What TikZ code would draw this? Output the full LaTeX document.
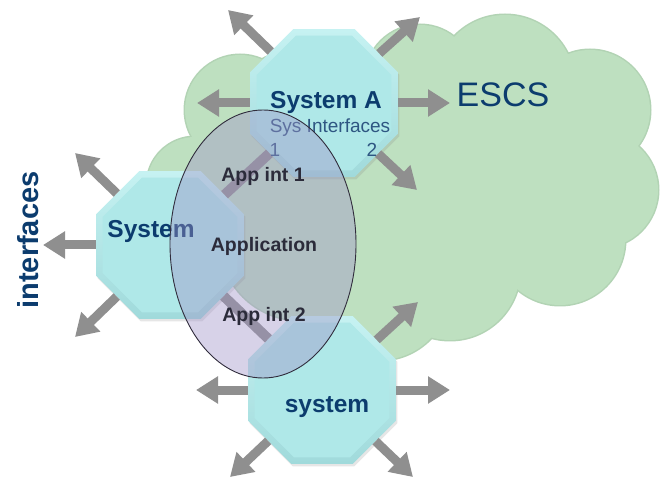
\documentclass[tikz,border=0pt]{standalone}
\usepackage{fontspec}
\setmainfont{Liberation Sans}
\usetikzlibrary{arrows.meta,shapes.geometric,shadows}
\definecolor{cloudgreen}{HTML}{BEE0C0}
\definecolor{cloudedge}{HTML}{B2D3B4}
\definecolor{octface}{HTML}{AFE8E8}
\definecolor{octlight}{HTML}{C6F2F2}
\definecolor{octdark}{HTML}{A0DADB}
\definecolor{flow}{HTML}{8F8F8F}
\definecolor{appfill}{RGB}{160,148,200}
\definecolor{titleblue}{HTML}{0C3C6E}
\definecolor{ifblue}{HTML}{2E5682}
\definecolor{apptext}{HTML}{2B2B3A}

\begin{document}
\begin{tikzpicture}[x=1pt,y=1pt,
    octagon/.style={regular polygon,regular polygon sides=8,minimum size=160pt,inner sep=0pt,
      top color=octlight,bottom color=octdark,
      drop shadow={opacity=.2,shadow xshift=1.5pt,shadow yshift=-2.5pt}},
    octinner/.style={regular polygon,regular polygon sides=8,minimum size=146pt,inner sep=0pt,fill=octface},
    flowarrow/.style={draw=flow,line width=9pt,-{Triangle[length=22pt,width=26pt]}},
    appflow/.style={draw=flow,line width=10pt},
    appset/.style={ellipse,minimum width=186pt,minimum height=268pt,inner sep=0pt,
      fill=appfill,fill opacity=.42,draw=black!70!appfill,line width=.9pt},
    bigtitle/.style={text=titleblue,font=\bfseries\fontsize{24.5}{28}\selectfont,anchor=base},
    iflabel/.style={text=ifblue,font=\fontsize{19}{22}\selectfont,anchor=base},
    applabel/.style={text=apptext,font=\bfseries\fontsize{19.5}{22}\selectfont,anchor=base}]
  \useasboundingbox (0,0) rectangle (662,480);

  % ESCS cloud
  \foreach \cx/\cy/\r in {195/295/48,240/370/55,420/400/55,505/395/70,590/370/60,600/290/58,
      560/240/65,450/210/70,380/190/70,350/280/130,300/240/80,300/350/80,500/290/100}
    \fill[cloudedge] (\cx,\cy) circle (\r+1.5);
  \foreach \cx/\cy/\r in {195/295/48,240/370/55,420/400/55,505/395/70,590/370/60,600/290/58,
      560/240/65,450/210/70,380/190/70,350/280/130,300/240/80,300/350/80,500/290/100}
    \fill[cloudgreen] (\cx,\cy) circle (\r);

  % systems
  \path
    (324,377) node[octagon] (sysA) {}
    (170,235) node[octagon] (sysL) {}
    (322,90) node[octagon] (sysB) {}
    ;
  \foreach \n in {sysA,sysL,sysB}
    \node[octinner] at (\n) {};

  % interface arrows
  \path
    (228,470) coordinate (aNW)
    (420,463) coordinate (aNE)
    (197,377) coordinate (aW)
    (450,377) coordinate (aE)
    (417,290) coordinate (aSE)
    (75,327) coordinate (lNW)
    (43,235) coordinate (lW)
    (75,143) coordinate (lSW)
    (418,178) coordinate (bNE)
    (450,90) coordinate (bE)
    (196,90) coordinate (bW)
    (230,3) coordinate (bSW)
    (413,3) coordinate (bSE)
    ;
  \foreach \t in {aNW,aNE,aW,aE,aSE}
    \draw[flowarrow] (sysA) -- (\t);
  \foreach \t in {lNW,lW,lSW}
    \draw[flowarrow] (sysL) -- (\t);
  \foreach \t in {bNE,bE,bW,bSW,bSE}
    \draw[flowarrow] (sysB) -- (\t);
  \draw[appflow] (sysA) -- (sysL);
  \draw[appflow] (sysL) -- (sysB);

  \path
    (326,371) node[bigtitle] (titleA) {System A}
    (330,347) node[iflabel] (sysif) {Sys Interfaces}
    (275,323) node[iflabel] (ifone) {1}
    (372,323) node[iflabel] (iftwo) {2}
    (151,242) node[bigtitle] (titleL) {System}
    (327,67) node[bigtitle] (titleB) {system}
    (503,373) node[text=titleblue,font=\fontsize{34}{38}\selectfont,anchor=base] (escs) {ESCS}
    (28,240) node[rotate=90,text=titleblue,font=\bfseries\fontsize{29}{32}\selectfont] (ifaces) {interfaces}
    ;

  % application
  \node[appset] (app) at (263,236) {};
  \path
    (263,298) node[applabel] (appint1) {App int 1}
    (264,228) node[applabel] (appl) {Application}
    (264,158) node[applabel] (appint2) {App int 2}
    ;
\end{tikzpicture}
\end{document}
